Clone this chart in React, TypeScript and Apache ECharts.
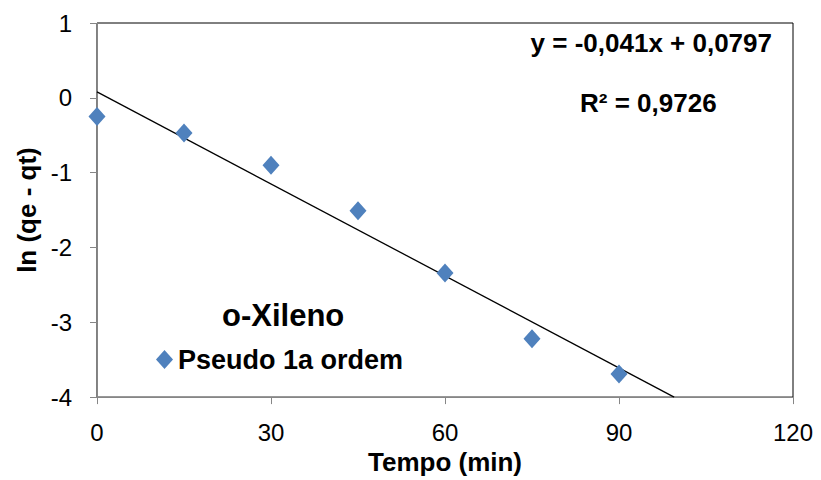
import React, { useEffect, useRef } from "react";
import * as echarts from "echarts";

const timeMin = [0, 15, 30, 45, 60, 75, 90];
const lnValues = [-0.25, -0.47, -0.9, -1.51, -2.34, -3.22, -3.69];
const seriesName = "Pseudo 1a ordem";
const slope = -0.041;
const intercept = 0.0797;
const equationText = "y = -0,041x + 0,0797";
const r2Text = "R² = 0,9726";
const chartTitle = "o-Xileno";
const xTicks = { min: 0, max: 120, interval: 30 };
const yTicks = { min: -4, max: 1, interval: 1 };

const FONT = "'Liberation Sans', Arial, sans-serif";

export default function App() {
  const ref = useRef<HTMLDivElement>(null);
  useEffect(() => {
    document.body.style.margin = "0";
    if (!ref.current) return;
    const chart = echarts.init(ref.current, null, { renderer: "svg" });
    const xEnd = (yTicks.min - intercept) / slope;
    const trend = [
      [xTicks.min, intercept + slope * xTicks.min],
      [xEnd, yTicks.min],
    ];
    const scatterData = timeMin.map((t, i) => [t, lnValues[i]]);
    chart.setOption({
      animation: false,
      backgroundColor: "#fff",
      textStyle: { fontFamily: FONT },
      grid: {
        left: 97,
        right: 28,
        top: 23,
        bottom: 82,
        show: true,
        borderColor: "#000",
        borderWidth: 1,
        backgroundColor: "transparent",
      },
      legend: {
        data: [seriesName],
        left: 156,
        top: 346,
        icon: "diamond",
        itemWidth: 17,
        itemHeight: 19,
        padding: 0,
        itemStyle: { opacity: 1 },
        textStyle: {
          fontFamily: FONT,
          fontSize: 27,
          fontWeight: "bold",
          color: "#000",
        },
      },
      xAxis: {
        type: "value",
        min: xTicks.min,
        max: xTicks.max,
        interval: xTicks.interval,
        name: "Tempo (min)",
        nameLocation: "middle",
        nameGap: 47,
        nameTextStyle: {
          fontFamily: FONT,
          fontSize: 26,
          fontWeight: "bold",
          color: "#000",
        },
        axisLine: {
          show: true,
          onZero: false,
          lineStyle: { color: "#868686", width: 1 },
        },
        axisTick: { show: true, length: 7, lineStyle: { color: "#868686" } },
        axisLabel: {
          fontFamily: FONT,
          fontSize: 24,
          color: "#000",
          margin: 23,
        },
        splitLine: { show: false },
      },
      yAxis: {
        type: "value",
        min: yTicks.min,
        max: yTicks.max,
        interval: yTicks.interval,
        name: "ln (qe - qt)",
        nameLocation: "middle",
        nameGap: 55,
        nameTextStyle: {
          fontFamily: FONT,
          fontSize: 26,
          fontWeight: "bold",
          color: "#000",
        },
        axisLine: {
          show: true,
          onZero: false,
          lineStyle: { color: "#868686", width: 1 },
        },
        axisTick: { show: true, length: 7, lineStyle: { color: "#868686" } },
        axisLabel: {
          fontFamily: FONT,
          fontSize: 24,
          color: "#000",
          margin: 25,
        },
        splitLine: { show: false },
      },
      series: [
        {
          name: "trend",
          type: "line",
          data: trend,
          showSymbol: false,
          symbol: "none",
          lineStyle: { color: "#000", width: 1.3 },
          silent: true,
          z: 1,
        },
        {
          name: seriesName,
          type: "scatter",
          data: scatterData,
          symbol: "diamond",
          symbolSize: [17, 19],
          itemStyle: { color: "#4F81BD", opacity: 1 },
          z: 3,
        },
      ],
      graphic: [
        {
          type: "text",
          right: 49,
          top: 30,
          style: {
            text: equationText,
            fontFamily: FONT,
            fontSize: 26,
            fontWeight: "bold",
            fill: "#000",
          },
        },
        {
          type: "text",
          left: 580,
          top: 90,
          style: {
            text: r2Text,
            fontFamily: FONT,
            fontSize: 26,
            fontWeight: "bold",
            fill: "#000",
          },
        },
        {
          type: "text",
          left: 222,
          top: 300,
          style: {
            text: chartTitle,
            fontFamily: FONT,
            fontSize: 31,
            fontWeight: "bold",
            fill: "#000",
          },
        },
      ],
    });
    return () => chart.dispose();
  }, []);
  return <div ref={ref} style={{ width: 821, height: 480 }} />;
}
